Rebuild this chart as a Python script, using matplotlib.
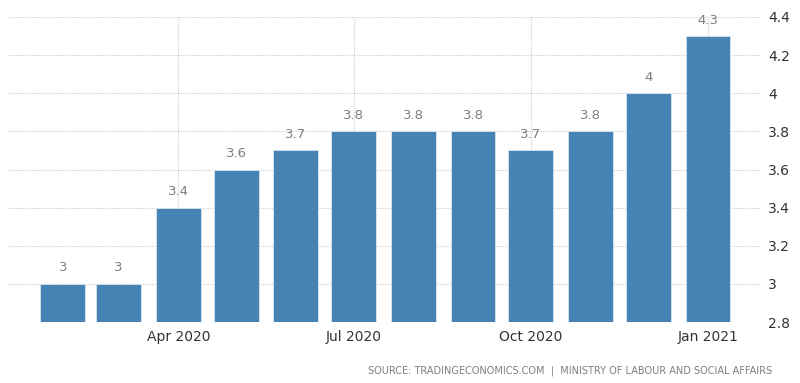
import matplotlib.pyplot as plt
import matplotlib.dates as mdates
import numpy as np
import pandas as pd

months = pd.date_range("2020-02-01", "2021-01-01", freq="MS")
values = [3.0, 3.0, 3.4, 3.6, 3.7, 3.8, 3.8, 3.8, 3.7, 3.8, 4.0, 4.3]
labels = ["3", "3", "3.4", "3.6", "3.7", "3.8", "3.8", "3.8", "3.7", "3.8", "4", "4.3"]
yticks = [2.8, 3.0, 3.2, 3.4, 3.6, 3.8, 4.0, 4.2, 4.4]
ytick_labels = ["2.8", "3", "3.2", "3.4", "3.6", "3.8", "4", "4.2", "4.4"]
xticks = pd.to_datetime(["2020-04-01", "2020-07-01", "2020-10-01", "2021-01-01"])
xtick_labels = ["Apr 2020", "Jul 2020", "Oct 2020", "Jan 2021"]

plt.rcParams["font.family"] = ["DejaVu Sans"]

fig = plt.figure(figsize=(8, 3.83), dpi=100)
ax = fig.add_axes([7 / 800, 1 - 322 / 383, 753 / 800, 305 / 383])

x = mdates.date2num(months)
ax.bar(x, np.array(values) - 2.8, width=23.3, bottom=2.8,
       color="#4682b4", edgecolor="#dbe7f2", linewidth=0.6, zorder=3)

# value labels above bars
for xi, v, lab in zip(x, values, labels):
    ax.text(xi, v + 0.05, lab, ha="center", va="bottom", fontsize=9.5,
            color="#7f7f7f", zorder=4, clip_on=False)

ax.set_xlim(mdates.date2num(pd.Timestamp("2020-01-03")),
            mdates.date2num(pd.Timestamp("2021-01-28")))
ax.set_ylim(2.8, 4.4)

ax.yaxis.tick_right()
ax.set_yticks(yticks)
ax.set_yticklabels(ytick_labels, fontsize=10, color="#333333")
ax.set_xticks(mdates.date2num(xticks))
ax.set_xticklabels(xtick_labels, fontsize=10, color="#333333")
ax.tick_params(axis="both", length=0, pad=6)
ax.tick_params(axis="y", pad=6)

ax.grid(True, linestyle=(0, (1, 1)), color="#cfcfcf", linewidth=0.8, zorder=0)
for s in ax.spines.values():
    s.set_visible(False)

fig.text(772 / 800, 1 - 371 / 383,
         "SOURCE: TRADINGECONOMICS.COM  |  MINISTRY OF LABOUR AND SOCIAL AFFAIRS",
         ha="right", va="center", fontsize=7, color="#7f7f7f")

fig.savefig("out.png", dpi=100)
